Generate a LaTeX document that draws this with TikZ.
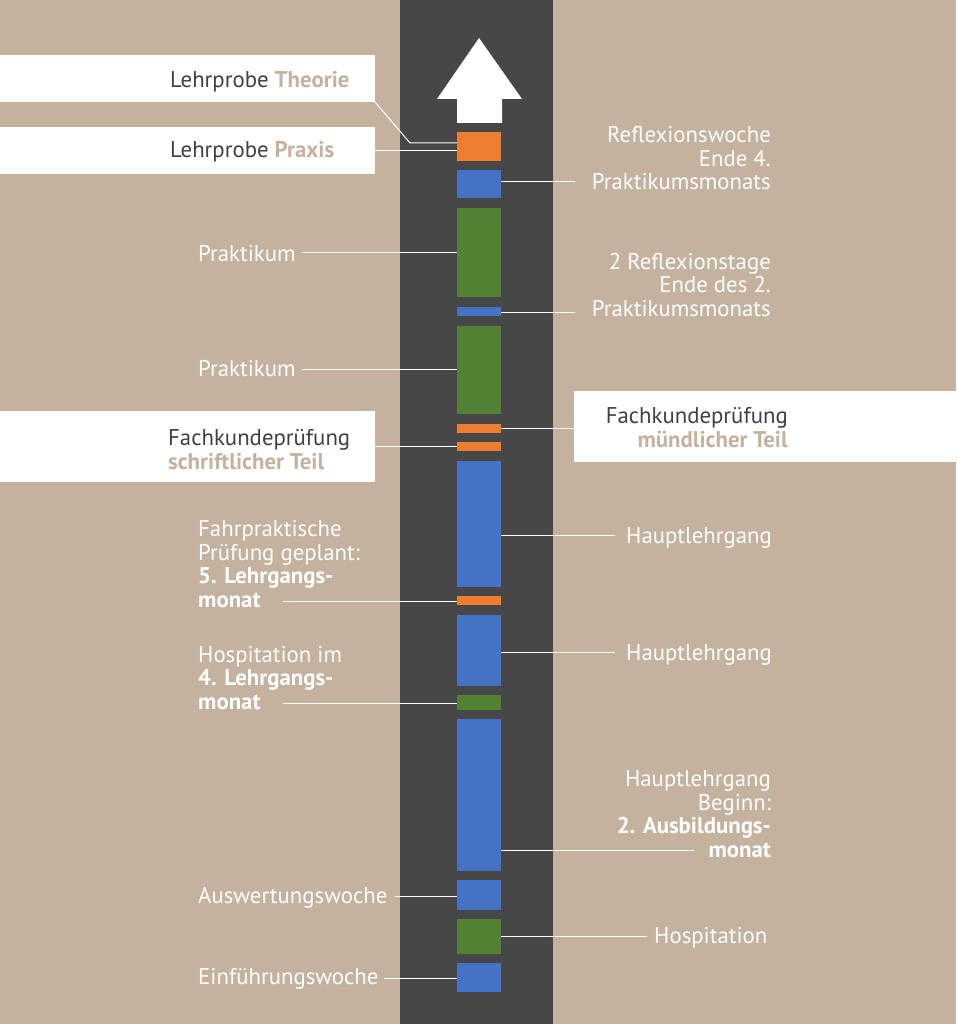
\documentclass[tikz,border=0pt]{standalone}
\usepackage{fontspec}
\setmainfont{PT Sans}
\definecolor{tan}{HTML}{C4B29E}
\definecolor{road}{HTML}{474747}
\definecolor{ora}{HTML}{ED7D31}
\definecolor{blu}{HTML}{4472C4}
\definecolor{gre}{HTML}{548235}
\definecolor{ink}{HTML}{404040}
\tikzset{
	bar/.style={minimum width=44pt,inner sep=0pt,outer sep=0pt,anchor=north west},
	wbox/.style={fill=white,inner sep=0pt,outer sep=0pt,anchor=north west},
	link/.style={draw=white,line width=1pt},
	lbl/.style={text=white,inner sep=0pt,font=\fontsize{22.8}{23.5}\selectfont},
	dark/.style={lbl,text=ink}
}
\begin{document}
\begin{tikzpicture}[x=1pt,y=-1pt]
	\fill[tan](0,0)rectangle(956,1024);
	\fill[road](400,0)rectangle(553,1024);
	\fill[white](479,38)--(522,99)--(502,99)--(502,123)--(457,123)--(457,99)--(437,99)--cycle;
	\node[bar,fill=ora,minimum height=29pt](o1)at(457,132){};
	\node[bar,fill=blu,minimum height=28pt](b1)at(457,170){};
	\node[bar,fill=gre,minimum height=89pt](g1)at(457,208){};
	\node[bar,fill=blu,minimum height=9pt](b2)at(457,307){};
	\node[bar,fill=gre,minimum height=88pt](g2)at(457,326){};
	\node[bar,fill=ora,minimum height=9pt](o2)at(457,424){};
	\node[bar,fill=ora,minimum height=9pt](o3)at(457,442){};
	\node[bar,fill=blu,minimum height=126pt](b3)at(457,461){};
	\node[bar,fill=ora,minimum height=9pt](o4)at(457,596){};
	\node[bar,fill=blu,minimum height=71pt](b4)at(457,615){};
	\node[bar,fill=gre,minimum height=15pt](g3)at(457,695){};
	\node[bar,fill=blu,minimum height=152pt](b5)at(457,719){};
	\node[bar,fill=blu,minimum height=30pt](b6)at(457,880){};
	\node[bar,fill=gre,minimum height=35pt](g4)at(457,919){};
	\node[bar,fill=blu,minimum height=29pt](b7)at(457,963){};
	\node[wbox,minimum width=375pt,minimum height=47pt](theo)at(0,55){};
	\node[wbox,minimum width=375pt,minimum height=47pt](prax)at(0,127){};
	\node[wbox,minimum width=375pt,minimum height=71pt](schr)at(0,411){};
	\node[wbox,minimum width=382pt,minimum height=71pt](muen)at(574,391){};
	\node[dark,anchor=base west](ltheo)at(170,88){Lehrprobe \textbf{\color{tan}Theorie}};
	\node[dark,anchor=base west](lprax)at(170,158){Lehrprobe \textbf{\color{tan}Praxis}};
	\node[dark,anchor=base west,align=left](lschr)at(168,469){Fachkundeprüfung\\\textbf{\color{tan}schriftlicher Teil}};
	\node[dark,anchor=base east,align=right](lmuen)at(788,447){Fachkundeprüfung\\\textbf{\color{tan}mündlicher Teil}};
	\node[lbl,anchor=base east,align=right](lrw)at(771,190){Reflexionswoche\\Ende 4.\\Praktikumsmonats};
	\node[lbl,anchor=base east,align=right](lrt)at(771,316){2 Reflexionstage\\Ende des 2.\\Praktikumsmonats};
	\node[lbl,anchor=base west](lpk1)at(198,261){Praktikum};
	\node[lbl,anchor=base west](lpk2)at(198,376){Praktikum};
	\node[lbl,anchor=base west,align=left](lfp)at(198,607){Fahrpraktische\\Prüfung geplant:\\\textbf{5. Lehrgangs-}\\\textbf{monat}};
	\node[lbl,anchor=base west,align=left](lhi)at(198,709){Hospitation im\\\textbf{4. Lehrgangs-}\\\textbf{monat}};
	\node[lbl,anchor=base west](lhl1)at(626,543){Hauptlehrgang};
	\node[lbl,anchor=base west](lhl2)at(626,660){Hauptlehrgang};
	\node[lbl,anchor=base east,align=right](lhl3)at(771,857){Hauptlehrgang\\Beginn:\\\textbf{2. Ausbildungs-}\\\textbf{monat}};
	\node[lbl,anchor=base west](law)at(198,903){Auswertungswoche};
	\node[lbl,anchor=base west](lho)at(654,943){Hospitation};
	\node[lbl,anchor=base west](lew)at(198,984){Einführungswoche};
	\coordinate(k1)at(410,143);
	\coordinate(c1)at(575,182);
	\coordinate(c2)at(302,252.5);
	\coordinate(c3)at(575,312);
	\coordinate(c4)at(302,369);
	\coordinate(c5)at(615,535.5);
	\coordinate(c6)at(283,601);
	\coordinate(c7)at(615,652);
	\coordinate(c8)at(283,703);
	\coordinate(c9)at(694,850);
	\coordinate(c10)at(395,896);
	\coordinate(c11)at(647,936);
	\coordinate(c12)at(384,978);
	\draw[link](theo.south east)--(k1)--(k1-|o1.west);
	\draw[link](prax.east)--(prax.east-|o1.west);
	\draw[link](c1-|b1.east)--(c1);
	\draw[link](c2)--(c2-|g1.west);
	\draw[link](c3-|b2.east)--(c3);
	\draw[link](c4)--(c4-|g2.west);
	\draw[link](o2.east)--(o2.east-|muen.west);
	\draw[link](o3.west-|schr.east)--(o3.west);
	\draw[link](c5-|b3.east)--(c5);
	\draw[link](c6)--(c6-|o4.west);
	\draw[link](c7-|b4.east)--(c7);
	\draw[link](c8)--(c8-|g3.west);
	\draw[link](c9-|b5.east)--(c9);
	\draw[link](c10)--(c10-|b6.west);
	\draw[link](c11-|g4.east)--(c11);
	\draw[link](c12)--(c12-|b7.west);
\end{tikzpicture}
\end{document}
